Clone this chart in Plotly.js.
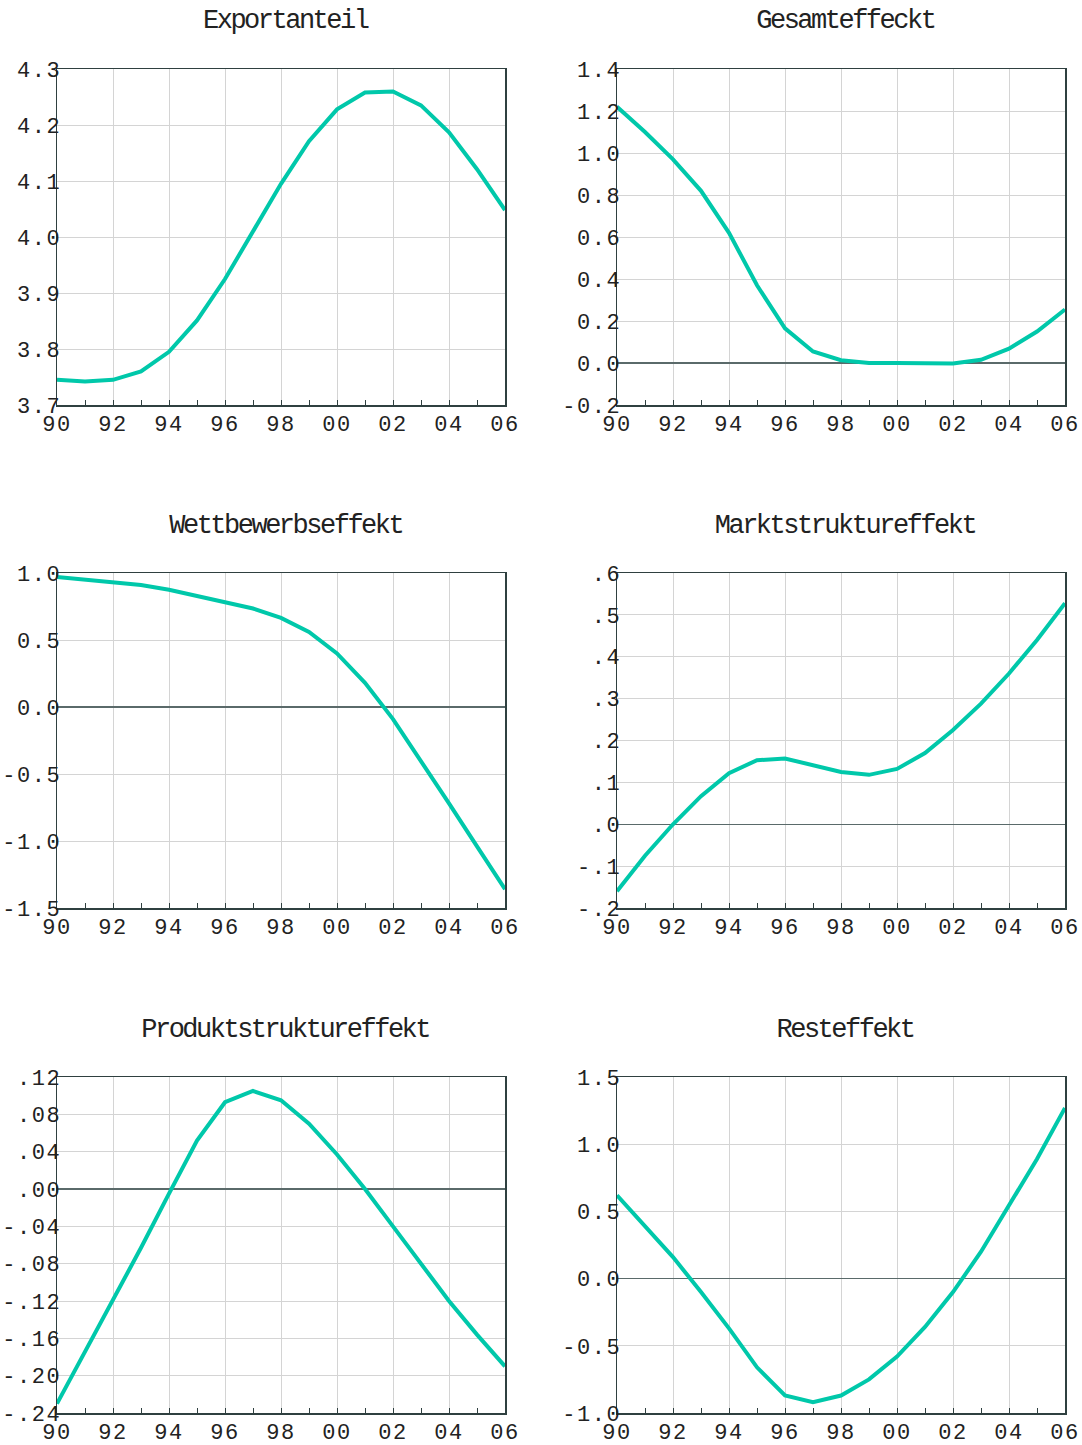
<!DOCTYPE html>
<html>
<head>
<meta charset="utf-8">
<script src="https://cdn.plot.ly/plotly-3.0.1.min.js"></script>
<style>
html,body{margin:0;padding:0;background:#fff;}
#chart{width:1082px;height:1445px;}
g.annotation text{letter-spacing:-2.5px;}
g[class*="tick"] text{letter-spacing:1.5px;}
</style>
</head>
<body>
<div id="chart"></div>
<script>
// ---- data ----
const years = [1990,1991,1992,1993,1994,1995,1996,1997,1998,1999,2000,2001,2002,2003,2004,2005,2006];
const xTickVals = [1990,1992,1994,1996,1998,2000,2002,2004,2006];
const xTickText = ["90","92","94","96","98","00","02","04","06"];

const titles = ["Exportanteil","Gesamteffeckt","Wettbewerbseffekt","Marktstruktureffekt","Produktstruktureffekt","Resteffekt"];

const exportanteil = [3.745,3.742,3.745,3.76,3.795,3.851,3.925,4.009,4.095,4.171,4.228,4.258,4.260,4.235,4.187,4.121,4.048];
const gesamteffekt = [1.22,1.10,0.97,0.82,0.62,0.37,0.165,0.055,0.013,0.0,0.0,0.0,-0.002,0.015,0.068,0.15,0.255];
const wettbewerb = [0.97,0.95,0.93,0.91,0.875,0.83,0.785,0.735,0.665,0.56,0.40,0.18,-0.09,-0.40,-0.72,-1.04,-1.36];
const marktstruktur = [-0.16,-0.075,0.0,0.067,0.122,0.153,0.157,0.142,0.125,0.118,0.132,0.170,0.225,0.288,0.36,0.44,0.528];
const produktstruktur = [-0.23,-0.175,-0.12,-0.063,-0.005,0.052,0.093,0.105,0.095,0.07,0.037,0.0,-0.04,-0.08,-0.12,-0.156,-0.19];
const resteffekt = [0.62,0.39,0.16,-0.10,-0.37,-0.66,-0.87,-0.92,-0.87,-0.75,-0.58,-0.36,-0.10,0.20,0.54,0.89,1.27];

const y1Vals = [3.7,3.8,3.9,4.0,4.1,4.2,4.3];
const y1Text = ["3.7","3.8","3.9","4.0","4.1","4.2","4.3"];
const y2Vals = [-0.2,0,0.2,0.4,0.6,0.8,1.0,1.2,1.4];
const y2Text = ["-0.2","0.0","0.2","0.4","0.6","0.8","1.0","1.2","1.4"];
const y3Vals = [-1.5,-1.0,-0.5,0,0.5,1.0];
const y3Text = ["-1.5","-1.0","-0.5","0.0","0.5","1.0"];
const y4Vals = [-0.2,-0.1,0,0.1,0.2,0.3,0.4,0.5,0.6];
const y4Text = ["-.2","-.1",".0",".1",".2",".3",".4",".5",".6"];
const y5Vals = [-0.24,-0.20,-0.16,-0.12,-0.08,-0.04,0,0.04,0.08,0.12];
const y5Text = ["-.24","-.20","-.16","-.12","-.08","-.04",".00",".04",".08",".12"];
const y6Vals = [-1.0,-0.5,0,0.5,1.0,1.5];
const y6Text = ["-1.0","-0.5","0.0","0.5","1.0","1.5"];

const series = [exportanteil,gesamteffekt,wettbewerb,marktstruktur,produktstruktur,resteffekt];
const yTicks = [[y1Vals,y1Text],[y2Vals,y2Text],[y3Vals,y3Text],[y4Vals,y4Text],[y5Vals,y5Text],[y6Vals,y6Text]];
const yRanges = [[3.7,4.3],[-0.2,1.4],[-1.5,1.0],[-0.2,0.6],[-0.24,0.12],[-1.0,1.5]];

// ---- layout geometry ----
const W = 1082, H = 1445;
const colX = [[57,505],[617,1065]];
const rowY = [[69,405],[573,908],[1077,1413]];
const titleY = [21,526,1030];

const FONT = "Liberation Mono, Courier New, monospace";
const lineColor = "#00c8aa";
const frameColor = "#2f4040";

const data = [];
const layout = {
  width: W, height: H,
  margin: {l:0,r:0,t:0,b:0},
  paper_bgcolor: "#fff", plot_bgcolor: "#fff",
  showlegend: false,
  font: {family: FONT, size: 20, color: "#222"},
  annotations: []
};

for (let i = 0; i < 6; i++) {
  const r = Math.floor(i/2), c = i % 2;
  const xn = i === 0 ? "x" : "x" + (i+1);
  const yn = i === 0 ? "y" : "y" + (i+1);
  const xk = i === 0 ? "xaxis" : "xaxis" + (i+1);
  const yk = i === 0 ? "yaxis" : "yaxis" + (i+1);
  data.push({
    type: "scatter", mode: "lines",
    x: years, y: series[i],
    xaxis: xn, yaxis: yn,
    line: {color: lineColor, width: 4},
    hoverinfo: "skip"
  });
  layout[xk] = {
    domain: [colX[c][0]/W, colX[c][1]/W],
    anchor: yn,
    range: [1990, 2006],
    tickmode: "array", tickvals: xTickVals, ticktext: xTickText,
    ticks: "inside", ticklen: 5, tickcolor: frameColor, tickwidth: 1,
    minor: {tickmode: "linear", tick0: 1990, dtick: 1, ticks: "inside", ticklen: 5, tickcolor: frameColor, showgrid: false},
    showgrid: true, gridcolor: "#d4d4d4", gridwidth: 1,
    showline: true, mirror: true, linecolor: frameColor, linewidth: 1.5,
    zeroline: false,
    tickfont: {family: FONT, size: 22, color: "#222"},
    ticklabelstandoff: -2,
    fixedrange: true
  };
  layout[yk] = {
    domain: [1 - rowY[r][1]/H, 1 - rowY[r][0]/H],
    anchor: xn,
    range: yRanges[i],
    tickmode: "array", tickvals: yTicks[i][0], ticktext: yTicks[i][1],
    ticks: "",
    showgrid: true, gridcolor: "#d4d4d4", gridwidth: 1,
    showline: true, mirror: true, linecolor: frameColor, linewidth: 1.5,
    zeroline: true, zerolinecolor: "#5a6a6a", zerolinewidth: 1.2,
    tickfont: {family: FONT, size: 22, color: "#222"},
    ticklabelstandoff: -10,
    fixedrange: true
  };
  layout.annotations.push({
    text: titles[i],
    xref: "paper", yref: "paper",
    x: ((colX[c][0]+colX[c][1])/2 + 4)/W,
    y: 1 - titleY[r]/H,
    xanchor: "center", yanchor: "middle",
    showarrow: false,
    font: {family: FONT, size: 27, color: "#222"}
  });
}

Plotly.newPlot("chart", data, layout, {staticPlot: true, displayModeBar: false});
</script>
</body>
</html>
